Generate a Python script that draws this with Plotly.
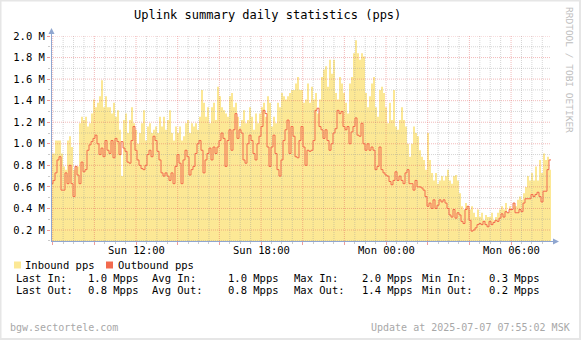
import plotly.graph_objects as go
from datetime import datetime, timedelta

# ---------------- data (Mpps) ----------------
start_time = datetime(2025, 7, 6, 7, 55, 2)
end_time = datetime(2025, 7, 7, 7, 55, 2)

inbound_first_half = [
    0.91, 0.91, 1.03, 1.03, 1.03, 0.91, 0.79, 0.76, 1.03, 1.07,
    0.97, 0.76, 0.79, 0.79, 1.19, 1.25, 1.22, 1.25, 1.16, 1.19,
    1.28, 1.41, 1.34, 1.38, 1.44, 1.59, 1.34, 1.44, 1.34, 1.34,
    1.28, 1.38, 1.25, 1.31, 1.13, 0.70, 1.22, 1.28, 1.10, 1.22,
    1.34, 1.19, 1.13, 1.00, 1.10, 1.19, 1.31, 1.03, 1.16, 1.19,
    1.10, 1.13, 1.16, 1.10, 1.25, 1.16, 1.25, 1.13, 1.22, 1.31,
    1.10, 1.03, 1.16, 1.10, 1.16, 1.03, 1.07, 1.19, 1.22, 1.10,
    1.19, 1.16, 1.19, 1.13, 1.25, 1.50, 1.38, 1.25, 1.34, 1.19,
    1.34, 1.38, 1.22, 1.53, 1.44, 1.34, 1.31, 1.28, 1.25, 1.44,
    1.47, 1.34, 1.38, 1.25, 1.16, 1.22, 1.31, 1.19, 1.22, 1.34,
    1.25, 1.13, 1.28, 1.19, 1.28, 1.34, 1.38, 1.25, 1.44, 1.38,
    1.16, 1.25, 1.19, 1.38, 1.34, 1.47, 1.44, 1.41, 1.44, 1.47,
    1.50, 1.50, 1.56, 1.62, 1.50,
]
inbound_second_half = [
    1.50, 1.38, 1.41, 1.56, 1.38, 1.53, 1.41, 1.47, 1.28, 1.41,
    1.62, 1.69, 1.72, 1.53, 1.78, 1.65, 1.78, 1.47, 1.41, 1.62,
    1.56, 1.47, 1.38, 1.28, 1.56, 1.62, 1.84, 1.96, 1.84, 1.78,
    1.84, 1.81, 1.47, 1.34, 1.44, 1.56, 1.62, 1.34, 1.25, 1.50,
    1.53, 1.47, 1.34, 1.19, 1.38, 1.22, 1.50, 1.16, 1.13, 1.22,
    1.34, 1.22, 1.16, 1.00, 0.88, 1.00, 1.16, 1.10, 1.07, 0.94,
    0.88, 0.85, 0.76, 1.10, 0.85, 0.73, 0.66, 0.73, 0.63, 0.66,
    0.70, 0.66, 0.70, 0.76, 0.66, 0.63, 0.70, 0.71, 0.66, 0.54,
    0.42, 0.39, 0.45, 0.42, 0.39, 0.42, 0.36, 0.32, 0.39, 0.32,
    0.36, 0.29, 0.34, 0.32, 0.32, 0.36, 0.29, 0.32, 0.36, 0.39,
    0.42, 0.39, 0.45, 0.36, 0.42, 0.39, 0.45, 0.42, 0.48, 0.51,
    0.48, 0.54, 0.60, 0.70, 0.66, 0.73, 0.66, 0.79, 0.66, 0.85,
    0.73, 0.91, 0.85, 0.88, 0.76,
]
outbound_first_half = [
    0.63, 0.66, 0.73, 0.85, 0.88, 0.57, 0.57, 0.73, 0.63, 0.80,
    0.63, 0.51, 0.79, 0.71, 0.63, 0.83, 0.74, 0.76, 0.94, 0.99,
    1.02, 1.05, 1.08, 1.00, 0.90, 0.96, 0.88, 1.03, 0.94, 0.91,
    1.03, 0.87, 1.05, 1.02, 0.90, 1.02, 0.96, 0.93, 0.83, 0.82,
    1.03, 1.16, 0.94, 0.85, 0.80, 0.77, 0.76, 0.80, 0.90, 0.94,
    0.88, 1.07, 1.03, 0.93, 0.85, 0.73, 0.70, 0.73, 0.70, 0.66,
    0.73, 0.63, 0.79, 0.90, 0.82, 0.63, 0.85, 0.94, 0.88, 0.71,
    0.76, 0.79, 0.91, 1.00, 1.03, 0.94, 0.73, 0.85, 0.91, 0.96,
    0.85, 0.97, 0.91, 0.97, 1.03, 1.10, 1.05, 0.79, 1.03, 1.13,
    0.94, 1.13, 1.28, 1.05, 1.13, 1.10, 0.85, 0.82, 1.00, 1.08,
    1.03, 0.91, 0.85, 1.00, 1.07, 1.16, 1.31, 1.28, 0.97, 0.79,
    0.97, 1.08, 0.91, 0.76, 0.70, 0.85, 1.03, 1.13, 1.22, 0.91,
    1.16, 1.07, 0.88, 0.87, 1.03,
]
outbound_second_half = [
    1.16, 0.97, 0.80, 0.94, 0.93, 0.94, 1.03, 1.31, 1.33, 1.16,
    1.13, 1.05, 1.13, 1.03, 0.94, 1.00, 1.10, 1.14, 1.31, 1.28,
    1.30, 1.16, 1.13, 1.16, 1.00, 1.11, 1.16, 1.24, 1.08, 1.07,
    1.19, 1.00, 0.94, 1.00, 0.94, 0.97, 0.94, 0.76, 0.79, 0.97,
    0.76, 0.73, 0.71, 0.70, 0.65, 0.62, 0.66, 0.74, 0.66, 0.70,
    0.66, 0.63, 0.73, 0.76, 0.63, 0.63, 0.57, 0.66, 0.60, 0.60,
    0.59, 0.57, 0.51, 0.42, 0.45, 0.40, 0.48, 0.40, 0.43, 0.48,
    0.46, 0.48, 0.45, 0.40, 0.34, 0.32, 0.39, 0.31, 0.36, 0.34,
    0.28, 0.26, 0.39, 0.42, 0.29, 0.19, 0.20, 0.22, 0.25, 0.26,
    0.25, 0.28, 0.25, 0.23, 0.28, 0.25, 0.27, 0.29, 0.28, 0.31,
    0.35, 0.32, 0.37, 0.36, 0.39, 0.39, 0.45, 0.36, 0.36, 0.39,
    0.37, 0.45, 0.49, 0.49, 0.49, 0.53, 0.51, 0.53, 0.55, 0.51,
    0.46, 0.56, 0.56, 0.76, 0.85,
]

y_tick_values = [0.2, 0.4, 0.6, 0.8, 1.0, 1.2, 1.4, 1.6, 1.8, 2.0]
y_tick_labels = ["0.2 M", "0.4 M", "0.6 M", "0.8 M", "1.0 M",
                 "1.2 M", "1.4 M", "1.6 M", "1.8 M", "2.0 M"]
x_label_hours = {12: "Sun 12:00", 18: "Sun 18:00", 0: "Mon 00:00", 6: "Mon 06:00"}

legend_names = ["Inbound pps", "Outbound pps"]
stats_in = ["Last In:", "1.0 Mpps", "Avg In:", "1.0 Mpps", "Max In:", "2.0 Mpps", "Min In:", "0.3 Mpps"]
stats_out = ["Last Out:", "0.8 Mpps", "Avg Out:", "0.8 Mpps", "Max Out:", "1.4 Mpps", "Min Out:", "0.2 Mpps"]
title_text = "Uplink summary daily statistics (pps)"
footer_left = "bgw.sectortele.com"
footer_right = "Update at 2025-07-07 07:55:02 MSK"
watermark = "RRDTOOL / TOBI OETIKER"

# ---------------- styling ----------------
W, H = 581, 340
L, R, T, B = 51, 30, 36, 99
PW, PH = W - L - R, H - T - B
Y_MIN, Y_MAX = 0.098, 2.0
FONT = "DejaVu Sans Mono"
IN_COLOR = "#FCE895"
OUT_COLOR = "#F26A4E"
AXIS_COLOR = "#8FA6D0"
MAJOR_GRID = "rgba(225,90,90,0.42)"
MINOR_GRID = "rgba(150,150,150,0.40)"


def px(x):
    return (x - L) / PW


def py(y):
    return (T + PH - y) / PH


inbound = inbound_first_half + inbound_second_half
outbound = outbound_first_half + outbound_second_half
n = len(inbound)
step = (end_time - start_time) / n
times = [start_time + i * step for i in range(n)] + [end_time]
inb = inbound + [inbound[-1]]
outb = outbound + [outbound[-1]]

fig = go.Figure()
fig.add_trace(go.Scatter(x=times, y=inb, mode="lines", line=dict(width=0, shape="hv"),
                         fill="tozeroy", fillcolor=IN_COLOR, hoverinfo="skip", showlegend=False))

# grid lines (drawn over the area, under the outbound line)
first_hour = start_time.replace(minute=0, second=0) + timedelta(hours=1)
minor_x, major_x = [], []
t = first_hour
while t <= end_time:
    if t.minute == 0 and t.hour % 2 == 0:
        major_x.append(t)
    else:
        minor_x.append(t)
    t += timedelta(minutes=30)

minor_y = [round(0.1 + 0.2 * k, 1) for k in range(10)]


def vlines(ts):
    xs, ys = [], []
    for tt in ts:
        xs += [tt, tt, None]
        ys += [Y_MIN, Y_MAX, None]
    return xs, ys


def hlines(vs):
    xs, ys = [], []
    for v in vs:
        xs += [start_time, end_time, None]
        ys += [v, v, None]
    return xs, ys


for (xs, ys), col in [(vlines(minor_x), MINOR_GRID), (hlines(minor_y), MINOR_GRID),
                      (vlines(major_x), MAJOR_GRID), (hlines(y_tick_values), MAJOR_GRID)]:
    fig.add_trace(go.Scatter(x=xs, y=ys, mode="lines", line=dict(color=col, width=1, dash="1px,1px"),
                             hoverinfo="skip", showlegend=False, connectgaps=False))

fig.add_trace(go.Scatter(x=times, y=outb, mode="lines", line=dict(width=1, shape="hv", color=OUT_COLOR),
                         hoverinfo="skip", showlegend=False))

fig.update_layout(
    width=W, height=H, margin=dict(l=L, r=R, t=T, b=B, pad=0),
    paper_bgcolor="white", plot_bgcolor="white",
    font=dict(family=FONT, size=10.5, color="#000000"),
    showlegend=False,
    xaxis=dict(type="date", range=[start_time, end_time], showgrid=False, zeroline=False,
               showline=False, tickmode="array", tickvals=major_x, showticklabels=False,
               ticks="outside", ticklen=3, tickcolor="rgba(225,90,90,0.6)", tickwidth=1,
               minor=dict(tickmode="array", tickvals=minor_x, ticks="outside", ticklen=2,
                          tickcolor="rgba(150,150,150,0.5)", showgrid=False),
               fixedrange=True),
    yaxis=dict(range=[Y_MIN, Y_MAX], showgrid=False, zeroline=False, showline=False,
               tickmode="array", tickvals=y_tick_values, ticktext=y_tick_labels,
               ticks="outside", ticklen=3, tickcolor="rgba(225,90,90,0.6)", tickwidth=1,
               tickfont=dict(family=FONT, size=10.5, color="#000000"),
               minor=dict(tickmode="array", tickvals=minor_y, ticks="outside", ticklen=2,
                          tickcolor="rgba(150,150,150,0.5)", showgrid=False),
               fixedrange=True),
)

shapes = []
# frame
shapes.append(dict(type="rect", xref="paper", yref="paper", x0=px(0.5), x1=px(W - 1), y0=py(H - 1), y1=py(0.5),
                   line=dict(color="#E6E6E6", width=2), fillcolor="rgba(0,0,0,0)", layer="below"))
# axes with arrows
shapes.append(dict(type="line", xref="paper", yref="paper", x0=px(51.5), x1=px(51.5), y0=py(241.5), y1=py(31),
                   line=dict(color=AXIS_COLOR, width=1), layer="above"))
shapes.append(dict(type="path", xref="paper", yref="paper",
                   path=f"M {px(48.5)},{py(34)} L {px(54.5)},{py(34)} L {px(51.5)},{py(28)} Z",
                   fillcolor=AXIS_COLOR, line=dict(width=0), layer="above"))
shapes.append(dict(type="line", xref="paper", yref="paper", x0=px(51), x1=px(555), y0=py(241.5), y1=py(241.5),
                   line=dict(color=AXIS_COLOR, width=1), layer="above"))
shapes.append(dict(type="path", xref="paper", yref="paper",
                   path=f"M {px(553)},{py(238.5)} L {px(553)},{py(244.5)} L {px(559)},{py(241.5)} Z",
                   fillcolor=AXIS_COLOR, line=dict(width=0), layer="above"))
# legend boxes
for x0, col in [(14, IN_COLOR), (106, OUT_COLOR)]:
    shapes.append(dict(type="rect", xref="paper", yref="paper", x0=px(x0), x1=px(x0 + 7), y0=py(268.5), y1=py(261.5),
                       fillcolor=col, line=dict(width=0), layer="above"))
fig.update_layout(shapes=shapes)

ann = []


def text(x, y, s, size=10.5, color="#000000", anchor="left", angle=0):
    ann.append(dict(x=px(x), y=py(y), xref="paper", yref="paper", text=s, showarrow=False,
                    xanchor=anchor, yanchor="middle", textangle=angle,
                    font=dict(family=FONT, size=size, color=color)))


# x tick labels placed with the x axis scale
for tt in major_x:
    if tt.minute == 0 and tt.hour in x_label_hours:
        ann.append(dict(x=tt, y=py(250), xref="x", yref="paper", text=x_label_hours[tt.hour],
                        showarrow=False, xanchor="center", yanchor="middle",
                        font=dict(family=FONT, size=10.5, color="#000000")))

text(267, 15, title_text, size=12, anchor="center")
text(570, 70, watermark, size=9.5, color="#BDBDBD", anchor="center", angle=90)
text(23, 265, legend_names[0])
text(116, 265, legend_names[1])
cols = [14, 86, 150, 226, 292, 360, 420, 487]
for i, s in enumerate(stats_in):
    text(cols[i], 277.5, s)
for i, s in enumerate(stats_out):
    text(cols[i], 290, s)
text(8, 327, footer_left, size=10, color="#A8A8A8")
text(572, 327, footer_right, size=10, color="#A8A8A8", anchor="right")
fig.update_layout(annotations=ann)

fig.write_html("out.html")
